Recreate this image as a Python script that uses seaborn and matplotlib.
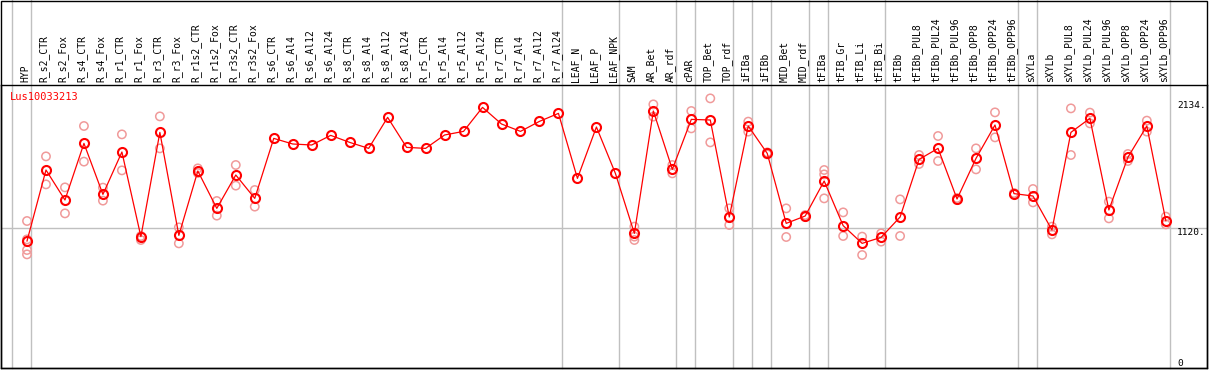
import matplotlib
matplotlib.use("Agg")
import matplotlib.pyplot as plt
import seaborn as sns
import pandas as pd
from matplotlib.patches import Rectangle
from matplotlib.transforms import ScaledTranslation

gene = "Lus10033213"

samples = ["HYP", "R_s2_CTR", "R_s2_Fox", "R_s4_CTR", "R_s4_Fox", "R_r1_CTR", "R_r1_Fox",
           "R_r3_CTR", "R_r3_Fox", "R_r1s2_CTR", "R_r1s2_Fox", "R_r3s2_CTR", "R_r3s2_Fox",
           "R_s6_CTR", "R_s6_Al4", "R_s6_Al12", "R_s6_Al24", "R_s8_CTR", "R_s8_Al4", "R_s8_Al12",
           "R_s8_Al24", "R_r5_CTR", "R_r5_Al4", "R_r5_Al12", "R_r5_Al24", "R_r7_CTR", "R_r7_Al4",
           "R_r7_Al12", "R_r7_Al24", "LEAF_N", "LEAF_P", "LEAF_NPK", "SAM", "AR_Bet", "AR_rdf",
           "cPAR", "TOP_Bet", "TOP_rdf", "iFIBa", "iFIBb", "MID_Bet", "MID_rdf", "tFIBa",
           "tFIB_Gr", "tFIB_Li", "tFIB_Bi", "tFIBb", "tFIBb_PUL8", "tFIBb_PUL24", "tFIBb_PUL96",
           "tFIBb_OPP8", "tFIBb_OPP24", "tFIBb_OPP96", "sXYLa", "sXYLb", "sXYLb_PUL8",
           "sXYLb_PUL24", "sXYLb_PUL96", "sXYLb_OPP8", "sXYLb_OPP24", "sXYLb_OPP96"]

mean_expr = [1016, 1584, 1344, 1797, 1389, 1728, 1051, 1885, 1061, 1576, 1277, 1544, 1357,
             1837, 1792, 1784, 1861, 1805, 1757, 2005, 1765, 1757, 1864, 1893, 2085, 1952, 1893,
             1973, 2037, 1517, 1928, 1557, 1077, 2056, 1589, 1989, 1984, 1208, 1936, 1717, 1157,
             1216, 1496, 1139, 997, 1045, 1208, 1669, 1757, 1352, 1677, 1944, 1395, 1376, 1104,
             1885, 1997, 1264, 1685, 1936, 1179]

replicates = [[1176, 1029, 944, 909], [1693, 1469], [1445, 1237], [1936, 1651], [1443, 1339],
              [1869, 1581], [1056, 1024], [2013, 1757], [1125, 997], [1597, 1560], [1336, 1219],
              [1624, 1459], [1424, 1291],
              [], [], [], [], [], [], [], [], [], [], [], [], [], [], [], [], [], [], [],
              [1131, 1051, 1024], [2109, 2011], [1624, 1557], [2056, 1917], [2157, 1805],
              [1277, 1144], [1971, 1891], [1725, 1709], [1277, 1048], [1224, 1208],
              [1584, 1549, 1357], [1245, 1056], [1051, 904], [1077, 1011], [1349, 1056],
              [1704, 1632], [1856, 1656], [1360, 1344], [1757, 1589], [2045, 1845], [1400, 1390],
              [1432, 1325], [1131, 1069], [2077, 1704], [2043, 1957], [1331, 1197], [1712, 1656],
              [1979, 1891], [1211, 1149]]

# last sample index of each tissue group (separator lines drawn just after)
group_ends = [-1, 0, 28, 31, 34, 35, 37, 38, 39, 41, 42, 45, 52, 53, 60]
y_ticks = [0, 1120, 2134]

mono = "DejaVu Sans Mono"
grey = "#c0c0c0"
pink = "#f09a9a"

pos = list(range(len(samples)))
df_mean = pd.DataFrame({"pos": pos, "expr": mean_expr})
df_rep = pd.DataFrame([(i, v) for i, reps in enumerate(replicates) for v in reps],
                      columns=["pos", "expr"])

fig = plt.figure(figsize=(12.09, 3.70), dpi=100)
ax = fig.add_axes([1 / 1209, 2 / 370, 1206 / 1209, 283 / 370])

for x in group_ends:
    ax.axvline(x + 0.2, ymin=0, ymax=1.31, color=grey, lw=1, clip_on=False, zorder=0)
ax.axhline(1120, color=grey, lw=1, zorder=0)

sns.scatterplot(data=df_rep, x="pos", y="expr", ax=ax, marker="o", s=36,
                facecolors="none", edgecolors=pink, linewidth=1.1, zorder=2)
sns.lineplot(data=df_mean, x="pos", y="expr", ax=ax, color="red", lw=0.9,
             marker="o", markersize=6.5, markerfacecolor="none",
             markeredgecolor="red", markeredgewidth=1.5, zorder=3)

ax.set_xlim(-1.37, 62.17)
ax.set_ylim(0, 2264)
ax.set_xlabel("")
ax.set_ylabel("")

ax.xaxis.tick_top()
ax.set_xticks(pos)
ax.set_xticklabels(samples, rotation=90, family=mono, fontsize=7, va="bottom", ha="center")
ax.tick_params(axis="x", length=0, pad=2)
shift = ScaledTranslation(-2 / 100, 0, fig.dpi_scale_trans)
for lab in ax.get_xticklabels():
    lab.set_transform(lab.get_transform() + shift)

ax.yaxis.tick_right()
ax.set_yticks(y_ticks)
ax.set_yticklabels(["0", "1120.", "2134."], family=mono, fontsize=6.8, ha="left")
ax.tick_params(axis="y", length=0, pad=-21.5)
for lab in ax.get_yticklabels():
    lab.set_va("bottom" if lab.get_text() == "0" else "top")

for sp in ax.spines.values():
    sp.set_color("black")
    sp.set_linewidth(1)

ax.text(0.0075, 0.975, gene, transform=ax.transAxes, color="red", family=mono,
        fontsize=7.5, va="top", ha="left")

fig.patches.append(Rectangle((1 / 1209, 2 / 370), 1206 / 1209, 367.5 / 370,
                             transform=fig.transFigure, fill=False, ec="black", lw=1))

fig.savefig("out.png", dpi=100)
